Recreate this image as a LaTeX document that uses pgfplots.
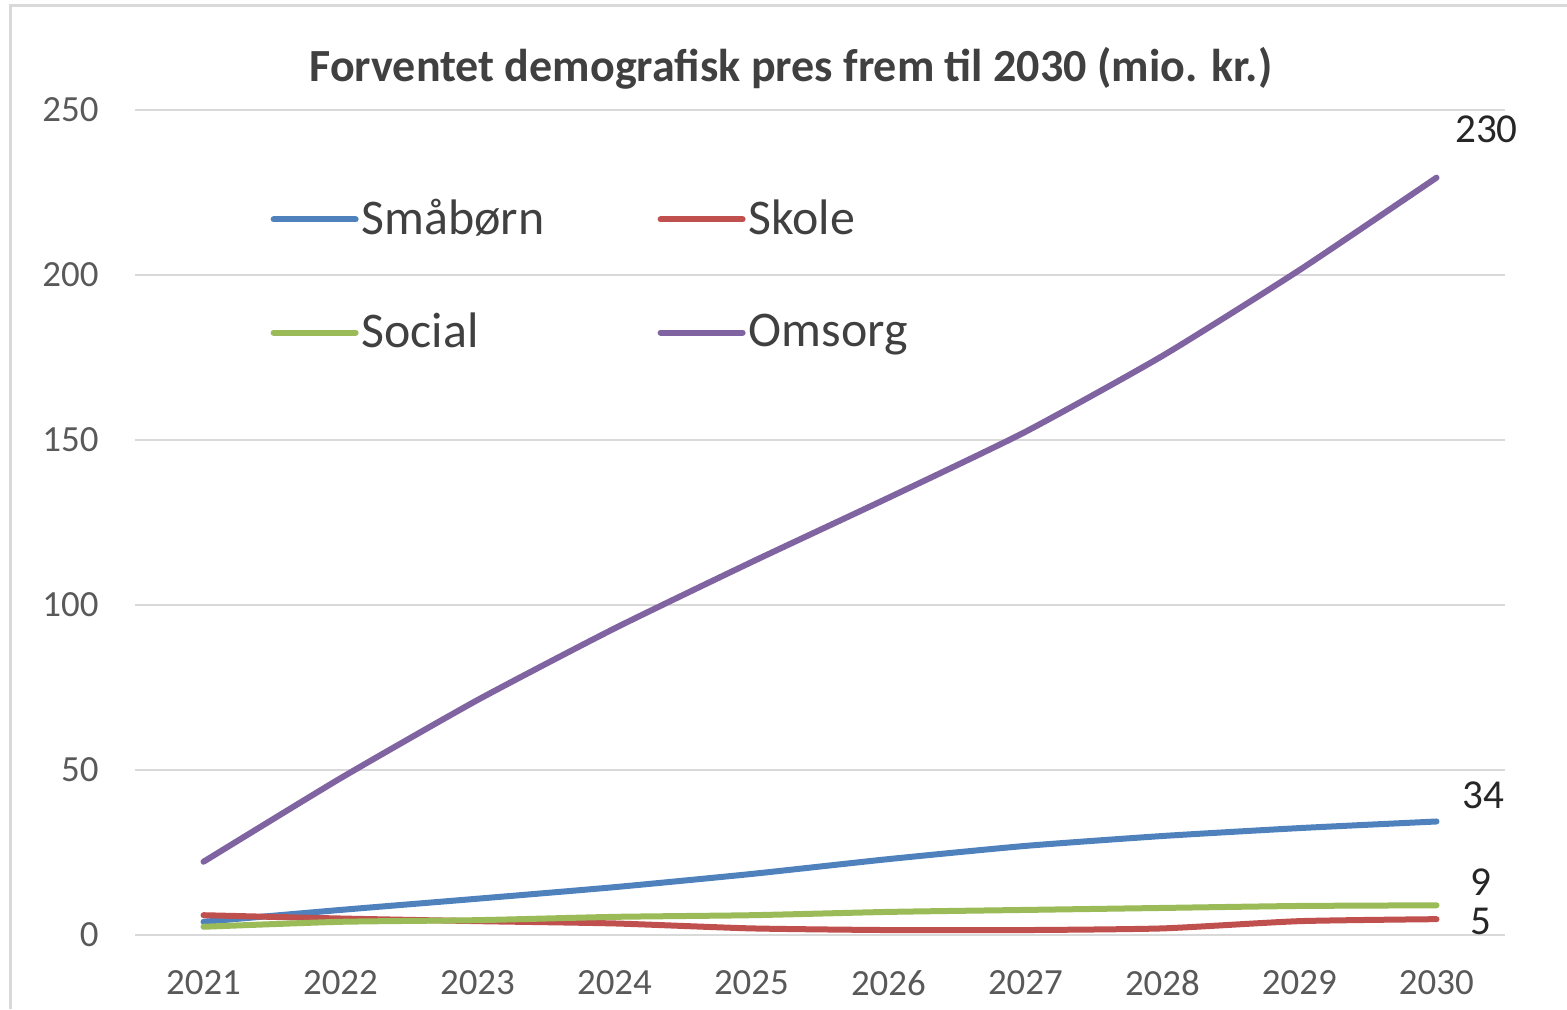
\documentclass[border=0pt]{standalone}
\usepackage{fontspec}
\setmainfont{Carlito}
\usepackage{pgfplots}
\pgfplotsset{compat=1.18}
\definecolor{cBlue}{HTML}{4F81BD}
\definecolor{cRed}{HTML}{C0504D}
\definecolor{cGreen}{HTML}{9BBB59}
\definecolor{cPurple}{HTML}{8064A2}
\definecolor{cGrid}{HTML}{D9D9D9}
\definecolor{cTick}{HTML}{595959}
\definecolor{cText}{HTML}{404040}
\begin{document}
\begin{tikzpicture}
\path[use as bounding box] (0,0) rectangle (156.7mm,100.9mm);
\draw[cGrid, line width=0.3mm] (1mm,0) -- (1mm,100.4mm) -- (156.7mm,100.4mm);
\begin{axis}[
  at={(13.5mm,7.4mm)}, anchor=origin,
  scale only axis, width=137mm, height=82.5mm,
  xmin=2020.5, xmax=2030.5, ymin=0, ymax=250,
  xtick={2021,...,2030}, ytick={0,50,...,250},
  xticklabel style={/pgf/number format/1000 sep={}},
  /pgf/number format/assume math mode=true,
  tick label style={font=\fontsize{10.5}{12}\selectfont, text=cTick},
  yticklabel style={xshift=-2.4mm},
  xticklabel style={yshift=-2.3mm},
  major tick length=0pt,
  axis line style={draw=none},
  ymajorgrids, grid style={cGrid, line width=0.15mm},
  clip=false,
  legend columns=2,
  legend style={at={(0.0985,0.799)}, anchor=west, draw=none, fill=none, inner sep=0pt,
    font=\fontsize{14.2}{16}\selectfont, text=cText, row sep=6.7mm,
    nodes={inner sep=0.3mm, anchor=west}},
  legend image code/.code={\draw[#1, line width=0.6mm, line cap=round] (0mm,0mm) -- (8.2mm,0mm);},
  /tikz/every even column/.append style={column sep=11mm},
  every axis plot/.append style={line width=0.6mm, line cap=round, line join=round, smooth, tension=0.35},
]
\addplot[cBlue] coordinates {(2021,4) (2022,7.6) (2023,11) (2024,14.5) (2025,18.5) (2026,23) (2027,27) (2028,30) (2029,32.4) (2030,34.4)};
\addlegendentry{Småbørn}
\addplot[cRed] coordinates {(2021,6) (2022,5) (2023,4.2) (2024,3.5) (2025,2) (2026,1.5) (2027,1.5) (2028,2) (2029,4.2) (2030,4.8)};
\addlegendentry{Skole}
\addplot[cGreen] coordinates {(2021,2.5) (2022,4) (2023,4.5) (2024,5.5) (2025,6) (2026,7) (2027,7.6) (2028,8.2) (2029,8.8) (2030,9)};
\addlegendentry{Social}
\addplot[cPurple] coordinates {(2021,22.2) (2022,47.5) (2023,71.2) (2024,92.9) (2025,113) (2026,132.5) (2027,152.5) (2028,175.5) (2029,201.5) (2030,229.5)};
\addlegendentry{Omsorg}
\begin{scope}[every node/.style={font=\fontsize{11.7}{13}\selectfont, text=black!85}]
\node at (axis cs:2030,229.5) [xshift=5mm, yshift=4.8mm] {230};
\node at (axis cs:2030,34.4) [xshift=4.7mm, yshift=2.6mm] {34};
\node at (axis cs:2030,9) [xshift=4.4mm, yshift=2.3mm] {9};
\node at (axis cs:2030,4.8) [xshift=4.4mm, yshift=-0.2mm] {5};
\end{scope}
\end{axis}
\node[font=\bfseries\fontsize{13.1}{15}\selectfont, text=cText] at (79.1mm,94.1mm) {Forventet demografisk pres frem til 2030 (mio. kr.)};
\end{tikzpicture}
\end{document}
